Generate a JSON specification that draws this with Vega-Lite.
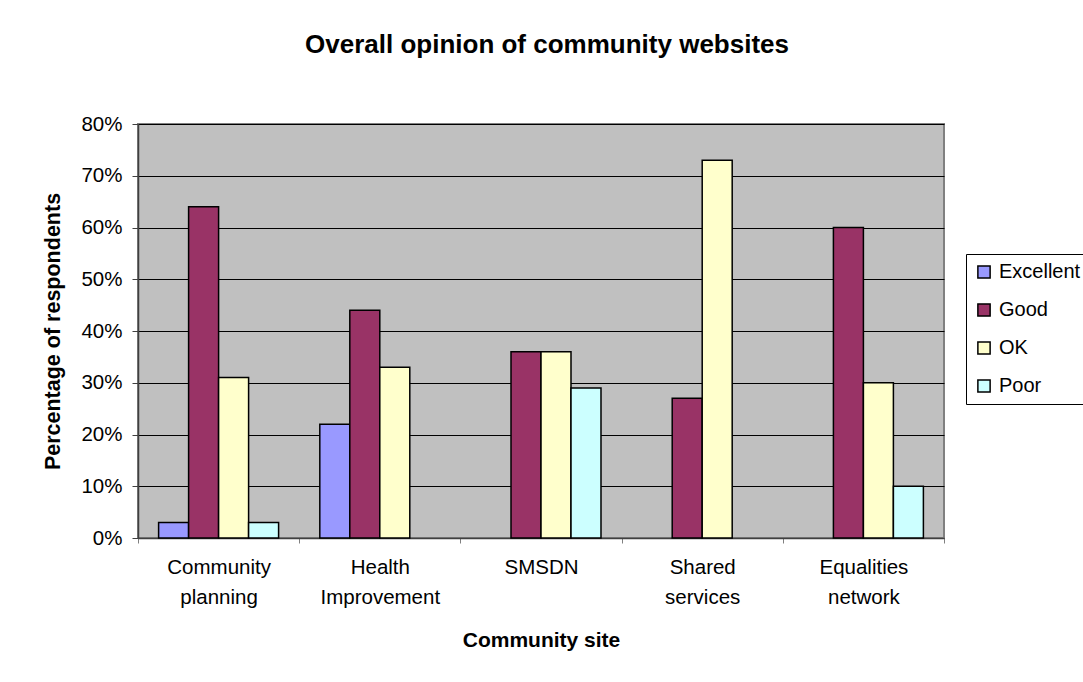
{
  "$schema": "https://vega.github.io/schema/vega-lite/v6.json",
  "width": 806,
  "height": 414,
  "autosize": {"type": "none"},
  "padding": {"left": 138, "top": 124, "right": 139, "bottom": 144},
  "background": "white",
  "title": {
    "text": "Overall opinion of community websites",
    "fontSize": 26,
    "fontWeight": "bold",
    "font": "Liberation Sans",
    "color": "black",
    "offset": 56,
    "anchor": "middle",
    "dx": 6
  },
  "config": {
    "font": "Liberation Sans",
    "view": {"fill": "#C0C0C0", "stroke": "#808080", "strokeWidth": 2}
  },
  "data": {
    "values": [
      {"site": "Community planning", "rating": "Excellent", "pct": 3},
      {"site": "Community planning", "rating": "Good", "pct": 64},
      {"site": "Community planning", "rating": "OK", "pct": 31},
      {"site": "Community planning", "rating": "Poor", "pct": 3},
      {"site": "Health Improvement", "rating": "Excellent", "pct": 22},
      {"site": "Health Improvement", "rating": "Good", "pct": 44},
      {"site": "Health Improvement", "rating": "OK", "pct": 33},
      {"site": "SMSDN", "rating": "Good", "pct": 36},
      {"site": "SMSDN", "rating": "OK", "pct": 36},
      {"site": "SMSDN", "rating": "Poor", "pct": 29},
      {"site": "Shared services", "rating": "Good", "pct": 27},
      {"site": "Shared services", "rating": "OK", "pct": 73},
      {"site": "Equalities network", "rating": "Good", "pct": 60},
      {"site": "Equalities network", "rating": "OK", "pct": 30},
      {"site": "Equalities network", "rating": "Poor", "pct": 10}
    ]
  },
  "mark": {"type": "bar", "stroke": "black", "strokeWidth": 1.5},
  "encoding": {
    "x": {
      "field": "site",
      "type": "nominal",
      "sort": ["Community planning", "Health Improvement", "SMSDN", "Shared services", "Equalities network"],
      "scale": {"paddingInner": 0, "paddingOuter": 0},
      "axis": {
        "title": "Community site",
        "titleFontSize": 21,
        "titleFontWeight": "bold",
        "titleColor": "black",
        "titlePadding": 22,
        "labelAngle": 0,
        "labelFontSize": 20.5,
        "labelColor": "black",
        "labelExpr": "isValid(datum.value) ? split(datum.value, ' ') : ''",
        "labelLineHeight": 30,
        "labelPadding": 14,
        "tickBand": "extent",
        "tickSize": 5,
        "tickColor": "#808080",
        "domainColor": "#404040",
        "domainWidth": 1.5
      }
    },
    "xOffset": {
      "field": "rating",
      "type": "nominal",
      "sort": ["Excellent", "Good", "OK", "Poor"],
      "scale": {"paddingInner": 0, "paddingOuter": 0.687}
    },
    "y": {
      "field": "pct",
      "type": "quantitative",
      "scale": {"domain": [0, 80], "nice": false},
      "axis": {
        "title": "Percentage of respondents",
        "titleFontSize": 21.5,
        "titleFontWeight": "bold",
        "titleColor": "black",
        "titlePadding": 16,
        "values": [0, 10, 20, 30, 40, 50, 60, 70, 80],
        "labelExpr": "datum.value + '%'",
        "labelFontSize": 20.5,
        "labelColor": "black",
        "labelPadding": 10,
        "tickSize": 6,
        "tickColor": "#404040",
        "domainColor": "#404040",
        "domainWidth": 1.5,
        "grid": true,
        "gridColor": "black",
        "gridWidth": 1
      }
    },
    "color": {
      "field": "rating",
      "type": "nominal",
      "sort": ["Excellent", "Good", "OK", "Poor"],
      "scale": {
        "domain": ["Excellent", "Good", "OK", "Poor"],
        "range": ["#9999FF", "#993366", "#FFFFCC", "#CCFFFF"]
      },
      "legend": {
        "title": null,
        "orient": "none",
        "legendX": 828,
        "legendY": 130,
        "padding": 8,
        "strokeColor": "black",
        "fillColor": "white",
        "symbolType": "square",
        "symbolSize": 150,
        "symbolStrokeColor": "black",
        "symbolStrokeWidth": 1.5,
        "symbolOpacity": 1,
        "labelFontSize": 20,
        "labelColor": "black",
        "labelOffset": 5,
        "rowPadding": 18
      }
    }
  }
}
